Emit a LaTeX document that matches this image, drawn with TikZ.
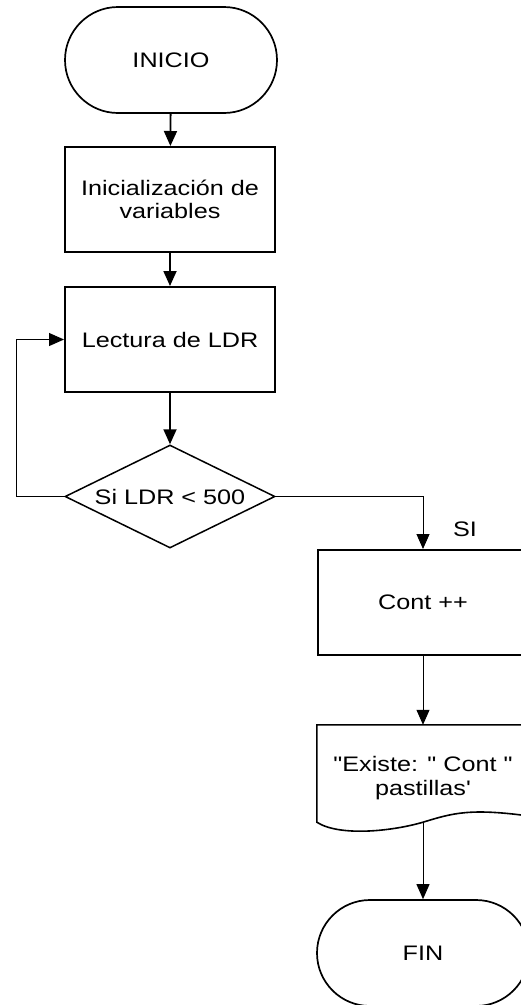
\documentclass[tikz,border=0pt]{standalone}
\usepackage{fontspec}
\setmainfont{Liberation Sans}[FakeStretch=1.2, Ligatures=TeXOff]
\usetikzlibrary{shapes.geometric,arrows.meta,calc}
\tikzset{
  base/.style={font=\fontsize{21}{23.5}\selectfont, align=center, inner sep=0pt},
  terminal/.style={base, draw, line width=1.7pt, rectangle, rounded corners=53pt,
    minimum width=212pt, minimum height=106pt},
  process/.style={base, draw, line width=2pt, rectangle,
    minimum width=210pt, minimum height=105pt},
  decision/.style={base, draw, line width=1.5pt, diamond, aspect=2,
    minimum width=210pt, minimum height=103pt},
  docbox/.style={base, rectangle, minimum width=212pt, minimum height=97pt},
  label/.style={base},
  heavyflow/.style={line width=1.8pt, -{Triangle[length=15pt,width=13pt]}},
  lightflow/.style={line width=1pt, -{Triangle[length=15pt,width=13pt]}},
}
\begin{document}
\begin{tikzpicture}[x=1pt,y=-1pt]
\useasboundingbox (0,0) rectangle (520,1005);

% main column
\node[terminal] (start) at (171,60) {INICIO};
\node[process]  (init)  at (170,199.5) {Inicialización de\\variables};
\node[process]  (read)  at (170,339.5) {Lectura de LDR};
\node[decision] (dec)   at (170,496.5) {Si LDR < 500};
\coordinate (loopx) at (16,496.5);

% right column
\node[process]  (cont)  at (423,602.5) {Cont ++};
\node[docbox]   (doc)   at (423,773.5) {};
\node[label]    (doctext) at (423,778) {"Existe: " Cont "\\pastillas'};
\node[terminal] (fin)   at (423,953) {FIN};
\node[label]    (si)    at (465,529) {SI};

% document outline with wavy bottom edge
\draw[line width=1.6pt]
  (doc.south west) -- (doc.north west) -- (doc.north east) -- (529,816)
  .. controls (470,808) and (453,813) .. (doc.south)
  .. controls (393,831) and (340,837) .. (doc.south west) -- cycle;

% connectors
\draw[heavyflow] (start) -- (init);
\draw[heavyflow] (init) -- (read);
\draw[heavyflow] (read) -- (dec);
\draw[lightflow] (dec.west) -- (loopx) |- (read.west);
\draw[lightflow] (dec.east) -| (cont.north);
\draw[lightflow] (cont.south) -- (doc.north);
\draw[lightflow] (doc.south) -- (fin.north);
\end{tikzpicture}
\end{document}
